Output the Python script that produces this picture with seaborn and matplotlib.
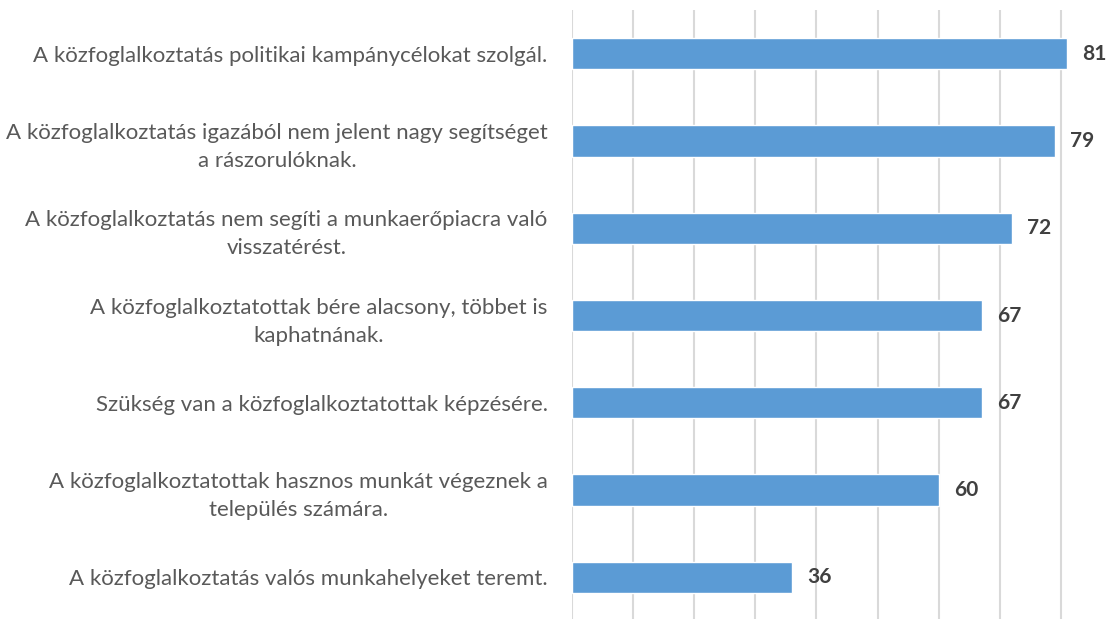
import matplotlib
matplotlib.use("Agg")
import matplotlib.pyplot as plt
import seaborn as sns
import pandas as pd

statements = [
    "A közfoglalkoztatás politikai kampánycélokat szolgál.",
    "A közfoglalkoztatás igazából nem jelent nagy segítséget\na rászorulóknak.",
    "A közfoglalkoztatás nem segíti a munkaerőpiacra való\nvisszatérést.",
    "A közfoglalkoztatottak bére alacsony, többet is\nkaphatnának.",
    "Szükség van a közfoglalkoztatottak képzésére.",
    "A közfoglalkoztatottak hasznos munkát végeznek a\ntelepülés számára.",
    "A közfoglalkoztatás valós munkahelyeket teremt.",
]
values = [81, 79, 72, 67, 67, 60, 36]

df = pd.DataFrame({"statement": statements, "value": values})

sns.set_style("white")
plt.rcParams["font.family"] = ["Lato", "DejaVu Sans"]

fig = plt.figure(figsize=(11.16, 6.19), dpi=100)
ax = fig.add_axes([572 / 1116, -2 / 619, 1 - 572 / 1116, 611 / 619])

sns.barplot(data=df, x="value", y="statement", orient="h", color="#5b9bd5",
            saturation=1, width=0.36, ax=ax)

ax.set_xlim(0, 89)
ax.set_xticks(range(0, 90, 10))
ax.xaxis.grid(True, color="#d9d9d9", lw=1.5)
ax.set_axisbelow(True)
ax.tick_params(axis="x", bottom=False, labelbottom=False)
ax.tick_params(axis="y", left=False, pad=14, labelsize=16, labelcolor="#595959")
for lbl in ax.get_yticklabels():
    lbl.set_multialignment("center")
    lbl.set_linespacing(1.5)
ax.set_xlabel("")
ax.set_ylabel("")
for s in ax.spines.values():
    s.set_visible(False)

for i, v in enumerate(values):
    ax.annotate(f"{v}", xy=(v, i), xytext=(11, 0), textcoords="offset points",
                va="center", ha="left", fontsize=15, fontweight="bold", color="#404040")

fig.savefig("out.png", dpi=100)
